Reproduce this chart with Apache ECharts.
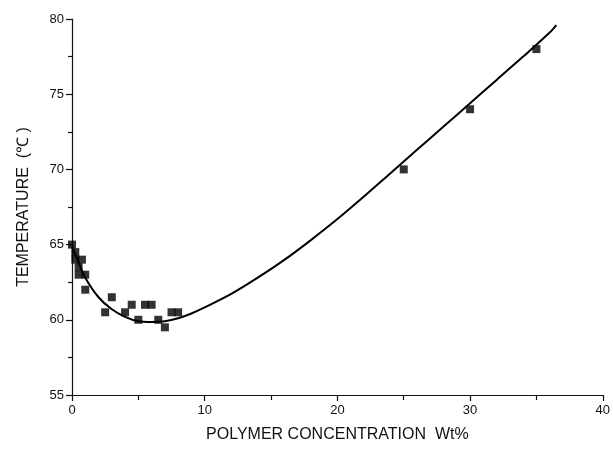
<!DOCTYPE html>
<html>
<head>
<meta charset="utf-8">
<script src="https://cdn.jsdelivr.net/npm/echarts@6/dist/echarts.min.js"></script>
<style>html,body{margin:0;padding:0;background:#fff}#c{width:613px;height:452px}</style>
</head>
<body>
<div id="c"></div>
<script>
var scatterX = [0, 0.25, 0.25, 0.75, 0.5, 1, 0.5, 1, 3, 2.5, 4.5, 4, 5, 5.5, 6, 6.5, 7, 7.5, 8, 25, 30, 35];
var scatterY = [65, 64.5, 64, 64, 63, 63, 63.5, 62, 61.5, 60.5, 61, 60.5, 60, 61, 61, 60, 59.5, 60.5, 60.5, 70, 74, 78];
var curveX = [0, 0.5, 1, 2, 3, 4, 5, 6, 7, 8, 9, 10, 12, 14, 16, 18, 20, 22, 24, 26, 28, 30, 32, 34, 36, 36.5];
var curveY = [64.9, 63.8, 62.8, 61.5, 60.7, 60.2, 59.9, 59.85, 59.9, 60.1, 60.42, 60.82, 61.72, 62.8, 63.98, 65.3, 66.7, 68.2, 69.75, 71.3, 72.85, 74.4, 75.95, 77.5, 79.1, 79.6];
var xTicks = [0, 10, 20, 30, 40];
var yTicks = [55, 60, 65, 70, 75, 80];

function pairs(a, b) { return a.map(function (v, i) { return [v, b[i]]; }); }

var chart = echarts.init(document.getElementById('c'));
var font = 'Liberation Sans, Arial, sans-serif';
chart.setOption({
  animation: false,
  backgroundColor: '#fff',
  grid: { left: 72, right: 9, top: 19, bottom: 57, containLabel: false },
  xAxis: {
    type: 'value', min: xTicks[0], max: xTicks[xTicks.length - 1], interval: 10,
    name: 'POLYMER CONCENTRATION  Wt%', nameLocation: 'middle', nameGap: 32,
    nameTextStyle: { fontFamily: font, fontSize: 16, color: '#111' },
    axisLine: { show: true, onZero: false, lineStyle: { color: '#111', width: 1.2 } },
    axisTick: { show: true, length: 6, lineStyle: { color: '#111', width: 1.2 } },
    minorTick: { show: true, splitNumber: 2, length: 5, lineStyle: { color: '#111', width: 1.2 } },
    axisLabel: { fontFamily: font, fontSize: 13, color: '#111', margin: 9 },
    splitLine: { show: false }
  },
  yAxis: {
    type: 'value', min: yTicks[0], max: yTicks[yTicks.length - 1], interval: 5,
    name: 'TEMPERATURE  (\u2103 )', nameLocation: 'middle', nameGap: 40, nameRotate: 90,
    nameTextStyle: { fontFamily: font, fontSize: 16, color: '#111' },
    axisLine: { show: true, onZero: false, lineStyle: { color: '#111', width: 1.2 } },
    axisTick: { show: true, length: 6, lineStyle: { color: '#111', width: 1.2 } },
    minorTick: { show: true, splitNumber: 2, length: 4, lineStyle: { color: '#111', width: 1.2 } },
    axisLabel: { fontFamily: font, fontSize: 13, color: '#111', margin: 8 },
    splitLine: { show: false }
  },
  series: [
    {
      type: 'line', data: pairs(curveX, curveY), smooth: 0.3, showSymbol: false,
      lineStyle: { color: '#000', width: 2 }, z: 2
    },
    {
      type: 'scatter', data: pairs(scatterX, scatterY), symbol: 'rect', symbolSize: 8,
      itemStyle: { color: '#000' }, z: 3
    }
  ]
});
</script>
</body>
</html>
